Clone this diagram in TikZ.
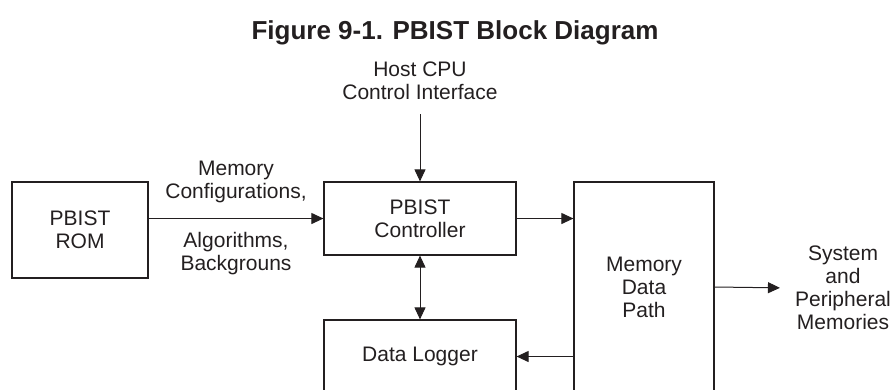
\documentclass[tikz,border=0pt]{standalone}
\usepackage{fontspec}
\setmainfont{Liberation Sans}
\usetikzlibrary{arrows.meta}
\definecolor{tiblack}{RGB}{35,31,32}
\tikzset{
    >={Triangle[length=12pt,width=11pt]},
    blk/.style={draw=tiblack, line width=1.2pt, text=tiblack, align=center, font=\fontsize{21}{23}\selectfont},
    lbl/.style={text=tiblack, align=center, font=\fontsize{21}{23}\selectfont, inner sep=3pt},
    arr/.style={draw=tiblack, line width=1pt, ->},
}
\begin{document}
\begin{tikzpicture}[x=1pt,y=-1pt]
                        \useasboundingbox (0,0) rectangle (891,389);
                        \clip (0,0) rectangle (891,389);

                        \node[lbl, font=\bfseries\fontsize{26}{30}\selectfont] (title) at (455,33) {Figure 9-1. PBIST Block Diagram};

                        \node[blk, minimum width=136pt, minimum height=96pt] (rom) at (80,230) {PBIST\\ROM};
                        \node[blk, minimum width=192pt, minimum height=73pt] (ctrl) at (420,218.5) {PBIST\\Controller};
                        \node[blk, minimum width=192pt, minimum height=73pt] (logger) at (420,356.5) {Data Logger};
                        \node[blk, minimum width=140pt, minimum height=210pt] (mdp) at (644,287) {Memory\\Data\\Path};

                        \node[lbl] (host) at (420,81) {Host CPU\\Control Interface};
                        \node[lbl] (cfg) at (236,181.5) {Memory\\Configurations,};
                        \node[lbl] (alg) at (236,253.5) {Algorithms,\\Backgrouns};
                        \node[lbl] (sys) at (843,288) {System\\and\\Peripheral\\Memories};

                        \draw[arr, shorten <=11pt] (host.south) -- (ctrl.north);
                        \draw[arr] (rom.east |- ctrl.west) -- (ctrl.west);
                        \draw[arr] (ctrl.east) -- (ctrl.east -| mdp.west);
                        \draw[arr, <->] (ctrl.south) -- (logger.north);
                        \draw[arr] (mdp.west |- logger.east) -- (logger.east);
                        \draw[arr, shorten >=12pt] (mdp.east) -- (sys.west);

                    \end{tikzpicture}
\end{document}
